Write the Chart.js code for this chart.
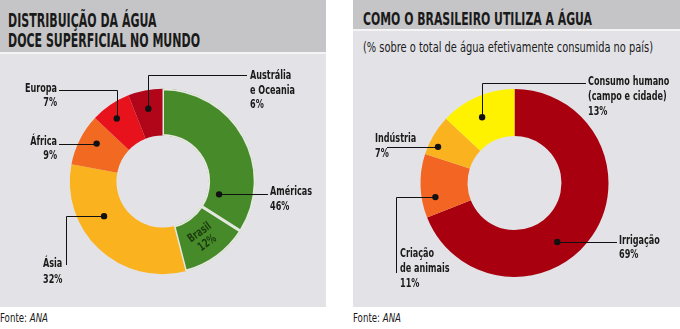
<!DOCTYPE html>
<html>
<head>
<meta charset="utf-8">
<script src="https://cdn.jsdelivr.net/npm/chart.js@4.4.0/dist/chart.umd.min.js"></script>
<style>
  body { margin: 0; width: 680px; height: 329px; background: #fff; overflow: hidden; position: relative;
         font-family: "Liberation Sans Narrow", "DejaVu Sans Condensed", sans-serif; color: #1a1a1a; }
  .panel { position: absolute; top: 0; height: 307px; background: #e3e3e7; }
  .head { background: #c5c5c7; border-bottom: 2px solid #f4f4f4; box-sizing: border-box; }
  .title, .sub, .fonte { position: absolute; white-space: nowrap; transform-origin: left top; }
  .title { font-weight: bold; font-size: 20px; line-height: 20px; }
  .sub { font-size: 14px; }
  .fonte { top: 310px; font-size: 13px; }
  canvas { position: absolute; left: 0; top: 0; }
</style>
</head>
<body>
<div class="panel" style="left:0;width:326px">
  <div class="head" style="height:54px"></div>
</div>
<div class="panel" style="left:353px;width:327px">
  <div class="head" style="height:31px"></div>
</div>
<div class="title" data-w="192" style="left:8px;top:10px">DISTRIBUIÇÃO DA ÁGUA<br>DOCE SUPERFICIAL NO MUNDO</div>
<div class="title" data-w="229" style="left:363px;top:9px;font-size:18px">COMO O BRASILEIRO UTILIZA A ÁGUA</div>
<div class="sub" data-w="290" style="left:363px;top:39px">(% sobre o total de água efetivamente consumida no país)</div>
<div class="fonte" data-w="48" style="left:0">Fonte: <i>ANA</i></div>
<div class="fonte" data-w="48" style="left:353px">Fonte: <i>ANA</i></div>
<canvas id="distChart" width="680" height="329"></canvas>
<canvas id="usoChart" width="680" height="329"></canvas>
<script>
// distribuição da água doce superficial (%), clockwise from top
const distLabels = ["Américas", "Brasil", "Ásia", "África", "Europa", "Austrália e Oceania"];
const distValues = [34, 12, 32, 9, 7, 6];   // Américas without Brasil; Américas total = 46
const distColors = ["#478a29", "#478a29", "#fbb21f", "#f26a22", "#e8121d", "#b1061a"];

// como o brasileiro utiliza a água (%), clockwise from top
const usoLabels = ["Irrigação", "Criação de animais", "Indústria", "Consumo humano (campo e cidade)"];
const usoValues = [69, 11, 7, 13];
const usoColors = ["#a9000f", "#f26522", "#fbb21f", "#fff200"];

const americasTotal = distValues[0] + distValues[1];
const labelFont = "bold 12px 'Liberation Sans Narrow', 'DejaVu Sans Condensed', sans-serif";
const labelSquash = 0.75;  // the print font is much narrower than what we have

// squeeze html titles to the width they have in print
document.querySelectorAll("[data-w]").forEach(el => {
  const w = el.getBoundingClientRect().width;
  el.style.transform = "scaleX(" + (el.dataset.w / w) + ")";
});

function squashedText(ctx, text, x, y) {
  ctx.save();
  ctx.translate(x, y);
  ctx.scale(labelSquash, 1);
  ctx.fillText(text, 0, 0);
  ctx.restore();
}

// draws dots, leader lines and the labels next to the ring
const callouts = {
  id: "callouts",
  afterDatasetsDraw(chart, args, opts) {
    const ctx = chart.ctx;
    const arcs = chart.getDatasetMeta(0).data;
    ctx.save();
    ctx.font = labelFont;
    ctx.textBaseline = "alphabetic";
    opts.items.forEach(it => {
      const p = arcs[it.index].getProps(["x", "y", "startAngle", "endAngle", "innerRadius", "outerRadius"], true);
      const a = p.startAngle + it.t * (p.endAngle - p.startAngle);
      const r = p.innerRadius + it.rf * (p.outerRadius - p.innerRadius);
      const px = p.x + r * Math.cos(a), py = p.y + r * Math.sin(a);

      if (it.route === "inside") {
        ctx.save();
        ctx.translate(px, py);
        ctx.rotate(a - Math.PI / 2);
        ctx.fillStyle = "#1c3b10";
        ctx.textAlign = "center";
        it.lines.forEach((l, i) => squashedText(ctx, l, 0, (i - 0.5) * 13 + 4));
        ctx.restore();
        return;
      }

      ctx.strokeStyle = "#111";
      ctx.lineWidth = 1;
      ctx.beginPath();
      if (it.route === "hv") {
        ctx.moveTo(it.ax, it.ay + 0.5);
        ctx.lineTo(Math.round(px) + 0.5, it.ay + 0.5);
        ctx.lineTo(Math.round(px) + 0.5, py);
      } else if (it.route === "vh") {
        ctx.moveTo(it.ax + 0.5, it.ay);
        ctx.lineTo(it.ax + 0.5, Math.round(py) + 0.5);
        ctx.lineTo(px, Math.round(py) + 0.5);
      } else {
        ctx.moveTo(it.ax, Math.round(py) + 0.5);
        ctx.lineTo(px, Math.round(py) + 0.5);
      }
      ctx.stroke();
      ctx.fillStyle = "#111";
      ctx.beginPath();
      ctx.arc(px, py, 3.2, 0, Math.PI * 2);
      ctx.fill();

      ctx.fillStyle = "#1a1a1a";
      ctx.textAlign = it.align;
      it.lines.forEach((l, i) => squashedText(ctx, l, it.x, it.y + i * it.lh));
    });
    ctx.restore();
  }
};

function ringOptions(pad, items) {
  return {
    responsive: false,
    animation: false,
    events: [],
    layout: { padding: pad },
    plugins: { legend: { display: false }, tooltip: { enabled: false }, callouts: { items } }
  };
}

new Chart(document.getElementById("distChart"), {
  type: "doughnut",
  data: {
    labels: distLabels,
    datasets: [{
      data: distValues,
      backgroundColor: distColors,
      borderColor: "#e6e9e2",
      borderWidth: [1.5, 1.5, 0, 0, 0, 0],
      borderAlign: "inner",
      radius: 93,
      cutout: 46
    }]
  },
  options: ringOptions({ left: 69, right: 424, top: 88, bottom: 54 }, [
    { index: 0, t: 0.84, rf: 0.26, route: "h", ax: 268, lines: ["Américas", americasTotal + "%"], x: 270, y: 195, lh: 15, align: "left" },
    { index: 1, t: 0.5, rf: 0.49, route: "inside", lines: ["Brasil", distValues[1] + "%"] },
    { index: 2, t: 0.64, rf: 0.47, route: "vh", ax: 66, ay: 265, lines: ["Ásia", distValues[2] + "%"], x: 43, y: 267, lh: 16, align: "left" },
    { index: 3, t: 0.59, rf: 0.64, route: "h", ax: 59, lines: ["África", distValues[3] + "%"], x: 57, y: 145, lh: 14, align: "right" },
    { index: 4, t: 0.43, rf: 0.68, route: "hv", ax: 59, ay: 90, lines: ["Europa", distValues[4] + "%"], x: 57, y: 92, lh: 14, align: "right" },
    { index: 5, t: 0.49, rf: 0.6, route: "hv", ax: 247, ay: 75, lines: ["Austrália", "e Oceania", distValues[5] + "%"], x: 250, y: 79, lh: 14.5, align: "left" }
  ]),
  plugins: [callouts]
});

new Chart(document.getElementById("usoChart"), {
  type: "doughnut",
  data: {
    labels: usoLabels,
    datasets: [{
      data: usoValues,
      backgroundColor: usoColors,
      borderWidth: 0,
      radius: 94,
      cutout: 47
    }]
  },
  options: ringOptions({ left: 420, right: 71, top: 89, bottom: 52 }, [
    { index: 0, t: 0.58, rf: 0.55, route: "h", ax: 617, lines: ["Irrigação", usoValues[0] + "%"], x: 619, y: 244, lh: 14, align: "left" },
    { index: 1, t: 0.29, rf: 0.71, route: "vh", ax: 396, ay: 273, lines: ["Criação", "de animais", usoValues[1] + "%"], x: 400, y: 257, lh: 15, align: "left" },
    { index: 2, t: 0.29, rf: 0.8, route: "h", ax: 387, lines: ["Indústria", usoValues[2] + "%"], x: 375, y: 142, lh: 15, align: "left" },
    { index: 3, t: 0.44, rf: 0.56, route: "hv", ax: 586, ay: 83, lines: ["Consumo humano", "(campo e cidade)", usoValues[3] + "%"], x: 588, y: 85, lh: 15, align: "left" }
  ]),
  plugins: [callouts]
});
</script>
</body>
</html>
